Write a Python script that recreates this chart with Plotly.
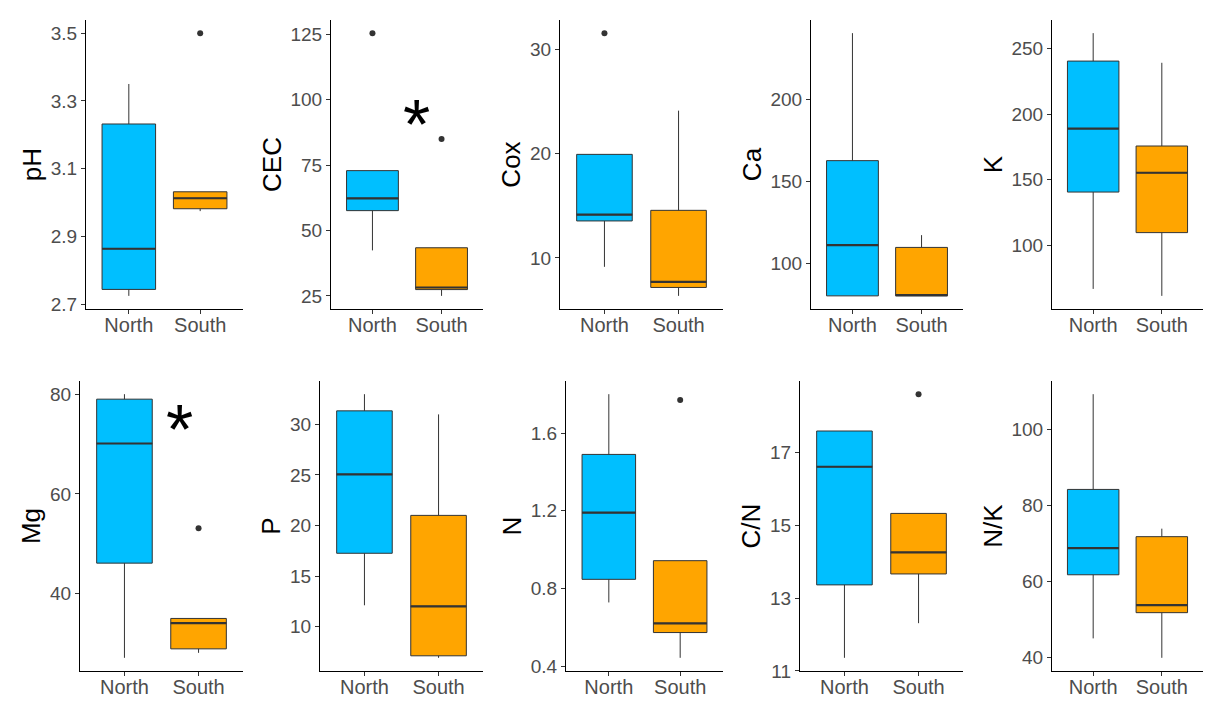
import plotly.graph_objects as go

# ---- данные ----
variables = ["pH", "CEC", "Cox", "Ca", "K", "Mg", "P", "N", "C/N", "N/K"]
groups = ["North", "South"]

north_lo = [2.725, 42.4, 9.14, 80.1, 66.8, 27.1, 12.1, 0.728, 11.36, 45.1]
north_q1 = [2.744, 57.6, 13.55, 80.1, 140.6, 46.1, 17.25, 0.847, 13.36, 61.8]
north_med = [2.864, 62.3, 14.15, 111.1, 189.0, 70.1, 25.06, 1.19, 16.6, 68.8]
north_q3 = [3.232, 72.9, 19.95, 162.7, 240.4, 79.0, 31.35, 1.49, 17.58, 84.2]
north_hi = [3.35, 72.9, 19.95, 240.6, 261.7, 80.0, 33.0, 1.80, 17.58, 109.2]
north_out = [[], [125.5], [31.6], [], [], [], [], [], [], []]

south_lo = [2.975, 25.0, 6.35, 80.1, 61.5, 28.1, 6.9, 0.443, 12.31, 40.0]
south_q1 = [2.982, 27.4, 7.16, 80.1, 109.7, 28.9, 7.1, 0.573, 13.66, 51.85]
south_med = [3.013, 28.2, 7.7, 80.5, 155.3, 34.05, 12.0, 0.62, 14.25, 53.85]
south_q3 = [3.032, 43.4, 14.57, 109.7, 175.7, 35.0, 21.0, 0.943, 15.32, 71.8]
south_hi = [3.032, 43.4, 24.15, 117.2, 239.1, 35.0, 31.0, 0.943, 15.32, 73.9]
south_out = [[3.5], [85.0], [], [], [], [53.1], [], [1.77], [18.59], []]

y_dticks = [0.2, 25, 10, 50, 50, 20, 5, 0.4, 2, 20]
y_tick0 = [2.7, 25, 10, 100, 100, 40, 10, 0.4, 11, 40]

# звёздочки значимости: (индекс панели, x, y)
stars = [(1, 0.64, 94.8), (5, 0.74, 75.2)]

# ---- геометрия панелей (пиксели) ----
W, H = 1216, 712
lefts = [86, 331, 560, 811, 1052, 80, 320, 566, 800, 1052]
rights = [243, 483, 723, 963, 1203, 243, 483, 723, 963, 1203]
rows_px = [(20, 309), (381, 671)]

colors = {"North": "#00BFFF", "South": "#FFA500"}
font_fam = "Liberation Sans, Arial, sans-serif"

fig = go.Figure()

for i, var in enumerate(variables):
    ax = "" if i == 0 else str(i + 1)
    xref, yref = "x" + ax, "y" + ax
    stats = {
        "North": (north_lo[i], north_q1[i], north_med[i], north_q3[i], north_hi[i], north_out[i]),
        "South": (south_lo[i], south_q1[i], south_med[i], south_q3[i], south_hi[i], south_out[i]),
    }
    all_vals = []
    for g in groups:
        lo, q1, med, q3, hi, out = stats[g]
        all_vals += [lo, hi] + out
        fig.add_trace(go.Box(
            x=[g], q1=[q1], median=[med], q3=[q3],
            lowerfence=[lo], upperfence=[hi],
            fillcolor=colors[g],
            line=dict(color="#333333", width=1),
            whiskerwidth=0, width=0.75, boxpoints=False,
            xaxis=xref, yaxis=yref, showlegend=False, hoverinfo="skip",
        ))
        # толстая линия медианы, как в ggplot
        fig.add_trace(go.Box(
            x=[g], q1=[med], median=[med], q3=[med],
            lowerfence=[med], upperfence=[med],
            fillcolor="rgba(0,0,0,0)",
            line=dict(color="#333333", width=2.2),
            whiskerwidth=0, width=0.75, boxpoints=False,
            xaxis=xref, yaxis=yref, showlegend=False, hoverinfo="skip",
        ))
        if out:
            fig.add_trace(go.Scatter(
                x=[g] * len(out), y=out, mode="markers",
                marker=dict(color="#333333", size=6),
                xaxis=xref, yaxis=yref, showlegend=False, hoverinfo="skip",
            ))

    vmin, vmax = min(all_vals), max(all_vals)
    pad = (vmax - vmin) * 0.05
    top, bot = rows_px[i // 5]

    fig.layout["xaxis" + ax] = dict(
        domain=[lefts[i] / W, rights[i] / W], anchor=yref, automargin=False,
        type="category", categoryorder="array", categoryarray=groups,
        range=[-0.6, 1.6], showline=True, linecolor="black", linewidth=1.2,
        ticks="outside", ticklen=4, tickcolor="#333333", showgrid=False,
        ticklabelstandoff=-6,
        tickfont=dict(family=font_fam, size=20, color="#4D4D4D"), zeroline=False,
    )
    fig.layout["yaxis" + ax] = dict(
        domain=[1 - bot / H, 1 - top / H], anchor=xref, automargin=False,
        range=[vmin - pad, vmax + pad], tick0=y_tick0[i], dtick=y_dticks[i],
        showline=True, linecolor="black", linewidth=1.2,
        ticks="outside", ticklen=4, tickcolor="#333333", showgrid=False, zeroline=False,
        tickfont=dict(family=font_fam, size=19, color="#4D4D4D"),
        title=dict(text=var, font=dict(family=font_fam, size=26, color="black"), standoff=1),
    )

for idx, sx, sy in stars:
    ax = "" if idx == 0 else str(idx + 1)
    fig.add_annotation(
        x=sx, y=sy, xref="x" + ax, yref="y" + ax, text="*", showarrow=False,
        font=dict(family=font_fam, size=70, color="black"),
        xanchor="center", yanchor="middle", yshift=-12,
    )

fig.update_layout(
    width=W, height=H, margin=dict(l=0, r=0, t=0, b=0, autoexpand=False),
    plot_bgcolor="white", paper_bgcolor="white", boxmode="overlay",
)

fig.write_html("out.html", config={"displayModeBar": False},
               post_script="document.body.style.margin='0';")
